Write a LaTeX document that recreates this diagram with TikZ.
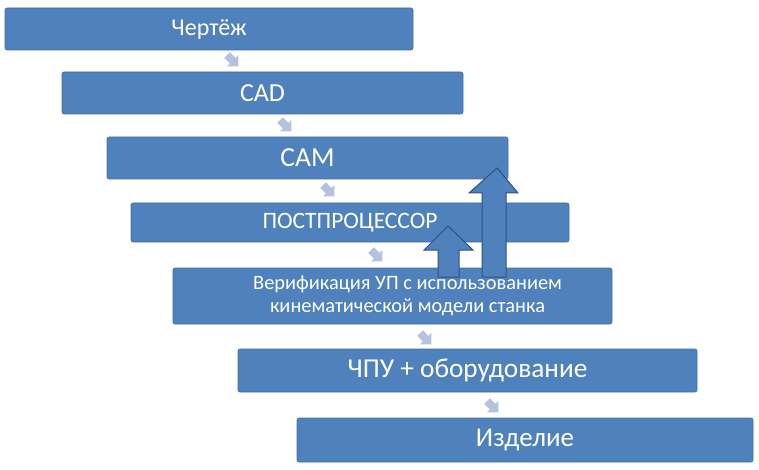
\documentclass[tikz,border=0pt]{standalone}
\usepackage{fontspec}
\setmainfont{Carlito}
\definecolor{boxblue}{HTML}{4F81BD}
\definecolor{boxedge}{HTML}{3F6EA8}
\definecolor{arrowedge}{HTML}{2F5283}
\definecolor{chev}{HTML}{B3C2DD}
\begin{document}
\begin{tikzpicture}[x=1pt,y=-1pt,
  stepbox/.style={fill=boxblue,draw=boxedge,line width=0.6pt,rounded corners=2pt,text=white,inner sep=0pt,align=center},
  boxtext/.style={text=white,inner sep=0pt,align=center},
  chevron/.pic={\fill[chev] (6.4,6.4) -- (-4.95,6.36) -- (-2.12,3.54) -- (-7.78,-2.12) -- (-2.12,-7.78) -- (3.54,-2.12) -- (6.36,-4.95) -- cycle;},
  uparrow/.style={fill=boxblue,draw=arrowedge,line width=1pt,line join=miter}]
\useasboundingbox (0,0) rectangle (759,470);
% chevrons (behind boxes)
\pic at (232,60) {chevron};
\pic at (285,125) {chevron};
\pic at (328,190) {chevron};
\pic at (376,255) {chevron};
\pic at (425,338) {chevron};
\pic at (492,406) {chevron};
% boxes
\node[stepbox,minimum width=408pt,minimum height=42pt,font=\fontsize{24}{28}\selectfont] (b1) at (209,29) {Чертёж};
\node[stepbox,minimum width=401pt,minimum height=42pt,font=\fontsize{26}{30}\selectfont] (b2) at (262.5,93) {CAD};
\node[stepbox,minimum width=401pt,minimum height=42pt,font=\fontsize{27.5}{31}\selectfont] (b3) at (307.5,158) {CAM};
\node[stepbox,minimum width=438pt,minimum height=39pt,font=\fontsize{23.5}{27}\selectfont] (b4) at (350,222.5) {ПОСТПРОЦЕССОР};
\node[stepbox,minimum width=439pt,minimum height=56pt] (b5) at (392.5,296) {};
\node[boxtext,font=\fontsize{20.4}{23.5}\selectfont] (t5) at ([xshift=15pt]b5.center) {Верификация УП с использованием\\кинематической модели станка};
\node[stepbox,minimum width=459pt,minimum height=43pt,font=\fontsize{27.3}{31}\selectfont] (b6) at (467.5,370.5) {ЧПУ + оборудование};
\node[stepbox,minimum width=456pt,minimum height=44pt,font=\fontsize{27}{31}\selectfont] (b7) at (525,440) {Изделие};
% up arrows
\draw[uparrow] (482,277) -- (482,193) -- (469,193) -- (497,168) -- (518,193) -- (506,193) -- (506,277) -- cycle;
\draw[uparrow] (438,277) -- (438,250) -- (424,250) -- (448,226) -- (473,250) -- (459,250) -- (459,277) -- cycle;
\end{tikzpicture}
\end{document}
